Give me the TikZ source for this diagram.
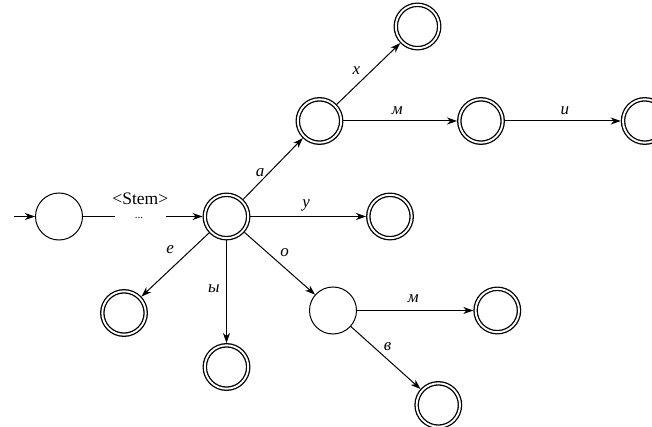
\documentclass[tikz,border=0pt]{standalone}
\usepackage{fontspec}
\setmainfont{Liberation Serif}
\usetikzlibrary{arrows.meta}
\begin{document}
\begin{tikzpicture}[x=1pt,y=-1pt,
  every path/.style={line width=1pt},
  st/.style={circle,draw,line width=1pt,minimum size=47pt,inner sep=0pt},
  acc/.style={circle,draw,line width=1.3pt,double,double distance=1.9pt,minimum size=43.4pt,inner sep=0pt,outer sep=2.25pt},
  arr/.style={-{Stealth[length=10pt,width=7pt,inset=3pt]},line width=1pt},
  lab/.style={font=\fontsize{17}{19}\selectfont\itshape,inner sep=0pt}]
\useasboundingbox (0,0) rectangle (652,427);
% nodes
\node[st]  (S)   at (59,216.5) {};
\node[acc] (M)   at (226.5,216.5) {};
\node[acc] (A)   at (319.5,121) {};
\node[acc] (X)   at (417.5,26.5) {};
\node[acc] (AM)  at (481,121) {};
\node[acc] (AMI) at (644.7,121) {};
\node[acc] (U)   at (390,216.5) {};
\node[acc] (E)   at (124,313) {};
\node[acc] (Y)   at (226.5,367) {};
\node[st]  (O)   at (333,310.5) {};
\node[acc] (OM)  at (497.3,310.5) {};
\node[acc] (OV)  at (438.3,405) {};
\coordinate (in) at (14,216.5);
\coordinate (g1) at (115,216.5);
\coordinate (g2) at (166,216.5);
\node[font=\fontsize{17.5}{19}\selectfont,inner sep=0pt,anchor=base] (stem) at (140.3,205) {<Stem>};
\node[font=\fontsize{11}{13}\selectfont,inner sep=0pt,anchor=base] (dots) at (139,218.5) {...};
% edges
\draw[arr] (in) -- (S);
\draw (S) -- (g1);
\draw[arr] (g2) -- (M);
\draw[arr] (M) -- node[lab,midway,shift={(-13pt,-4pt)}] {а} (A);
\draw[arr] (A) -- node[lab,midway,shift={(-12pt,3pt)}] {х} (X);
\draw[arr] (A) -- node[lab,midway,shift={(-3pt,10pt)}] {м} (AM);
\draw[arr] (AM) -- node[lab,midway,shift={(2pt,10pt)}] {и} (AMI);
\draw[arr] (M) -- node[lab,midway,shift={(-2pt,11pt)}] {у} (U);
\draw[arr] (M) -- node[lab,midway,shift={(-5pt,15pt)}] {е} (E);
\draw[arr] (M) -- node[lab,midway,shift={(-12.5pt,3pt)}] {ы} (Y);
\draw[arr] (M) -- node[lab,midway,shift={(5pt,11pt)}] {о} (O);
\draw[arr] (O) -- node[lab,midway,shift={(-2pt,12pt)}] {м} (OM);
\draw[arr] (O) -- node[lab,midway,shift={(2pt,11pt)}] {в} (OV);
\end{tikzpicture}
\end{document}
